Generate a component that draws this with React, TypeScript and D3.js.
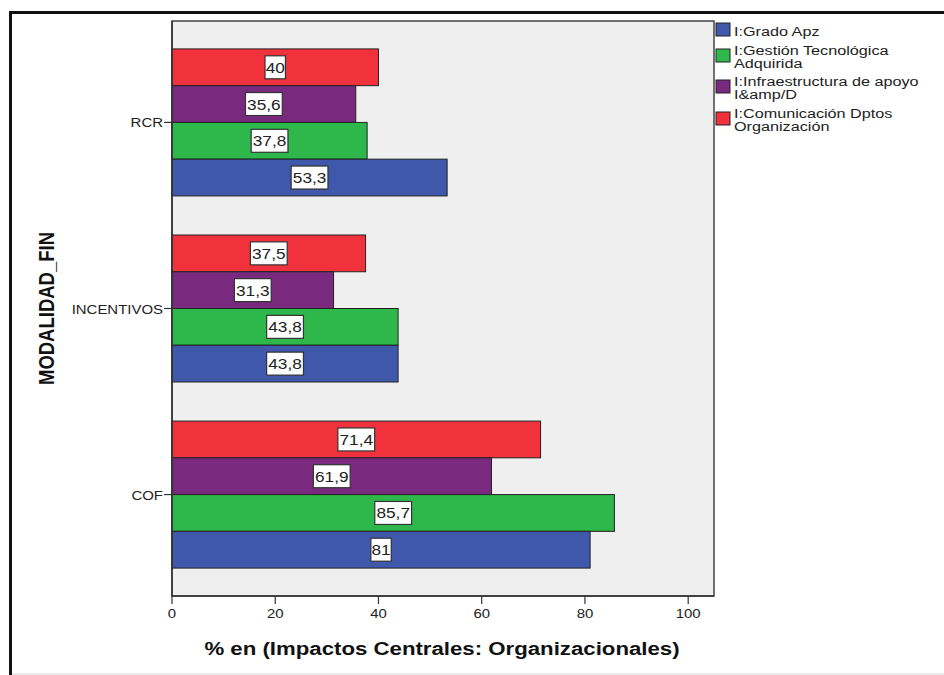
import React from "react";
import * as d3 from "d3";

const categories = ["RCR", "INCENTIVOS", "COF"];
const seriesNames = [
  "I:Grado Apz",
  "I:Gestión Tecnológica Adquirida",
  "I:Infraestructura de apoyo I&amp/D",
  "I:Comunicación Dptos Organización",
];
const legendLines = [
  ["I:Grado Apz"],
  ["I:Gestión Tecnológica", "Adquirida"],
  ["I:Infraestructura de apoyo", "I&amp/D"],
  ["I:Comunicación Dptos", "Organización"],
];
const seriesColors = ["#3F58AC", "#2EB84C", "#7A2A7E", "#F1323D"];
const gradoApz = [53.3, 43.8, 81];
const gestionTec = [37.8, 43.8, 85.7];
const infraestructura = [35.6, 31.3, 61.9];
const comunicacion = [40, 37.5, 71.4];
const seriesValues = [gradoApz, gestionTec, infraestructura, comunicacion];
const xTicks = [0, 20, 40, 60, 80, 100];
const xTitle = "% en (Impactos Centrales: Organizacionales)";
const yTitle = "MODALIDAD_FIN";

const W = 944;
const H = 675;
const PL = 172, PR = 714, PT = 21, PB = 596;
const FONT = "'Liberation Sans', Arial, sans-serif";
const SX = 1.15;

function fmt(v: number) {
  return String(v).replace(".", ",");
}

export default function App() {
  const x = d3.scaleLinear().domain([0, 105]).range([PL, PR]);
  const y = d3.scaleBand<string>().domain(categories).range([PT, PB]).paddingInner(0.21).paddingOuter(0.15);
  const order = [3, 2, 1, 0];
  const sub = d3.scaleBand<number>().domain(order).range([0, y.bandwidth()]).padding(0);

  const bars: React.ReactNode[] = [];
  const labels: React.ReactNode[] = [];
  categories.forEach((c, ci) => {
    order.forEach((si) => {
      const v = seriesValues[si][ci];
      const y0 = (y(c) as number) + (sub(si) as number);
      const h = sub.bandwidth();
      bars.push(
        <rect key={`b${ci}-${si}`} x={x(0)} y={y0} width={x(v) - x(0)} height={h}
          fill={seriesColors[si]} stroke="#222" strokeWidth={1} />
      );
      const cx = x(v / 2);
      const cy = y0 + h / 2;
      const txt = fmt(v);
      const bw = txt.length * 8.2 + 4;
      labels.push(
        <g key={`l${ci}-${si}`}>
          <rect x={cx - bw / 2} y={cy - 11.5} width={bw} height={23} fill="#fff" stroke="#333" strokeWidth={1.2} />
          <text transform={`translate(${cx},${cy + 5.5}) scale(${SX},1)`} textAnchor="middle"
            fontFamily={FONT} fontSize={15} fill="#222">{txt}</text>
        </g>
      );
    });
  });

  const legendY = [23, 49, 80, 112];

  return (
    <svg width={W} height={H} style={{ position: "absolute", left: 0, top: 0, background: "#fff" }}>
      <rect x={0} y={0} width={W} height={H} fill="#fff" />
      {/* outer frame */}
      <line x1={10.5} y1={11} x2={10.5} y2={H} stroke="#111" strokeWidth={3} />
      <line x1={9} y1={12.5} x2={W} y2={12.5} stroke="#111" strokeWidth={3} />
      <line x1={12} y1={674} x2={W} y2={674} stroke="#e4e4e4" strokeWidth={1.5} />

      {/* plot area */}
      <rect x={PL} y={PT} width={PR - PL} height={PB - PT} fill="#EFEFEF" stroke="#444" strokeWidth={1.5} />
      {bars}
      {labels}

      {/* x axis */}
      <line x1={PL} y1={PB} x2={PR} y2={PB} stroke="#333" strokeWidth={1.5} />
      {xTicks.map((t) => (
        <g key={`xt${t}`}>
          <line x1={x(t)} y1={PB} x2={x(t)} y2={PB + 8} stroke="#333" strokeWidth={1.2} />
          <text transform={`translate(${x(t)},${PB + 22}) scale(${SX},1)`} textAnchor="middle"
            fontFamily={FONT} fontSize={13} fill="#222">{t}</text>
        </g>
      ))}
      <text transform={`translate(442,${655}) scale(1.17,1)`} textAnchor="middle"
        fontFamily={FONT} fontSize={19} fontWeight="bold" fill="#111">{xTitle}</text>

      {/* y axis */}
      <line x1={PL} y1={PT} x2={PL} y2={PB} stroke="#333" strokeWidth={1.5} />
      {categories.map((c) => {
        const cy = (y(c) as number) + y.bandwidth() / 2;
        return (
          <g key={`yt${c}`}>
            <line x1={PL - 8} y1={cy} x2={PL} y2={cy} stroke="#333" strokeWidth={1.2} />
            <text transform={`translate(${PL - 9},${cy + 5}) scale(${SX},1)`} textAnchor="end"
              fontFamily={FONT} fontSize={13} fill="#222">{c}</text>
          </g>
        );
      })}
      <text transform={`translate(54,${(PT + PB) / 2}) rotate(-90) scale(1,1.2)`} textAnchor="middle"
        fontFamily={FONT} fontSize={18.5} fontWeight="bold" fill="#111">{yTitle}</text>

      {/* legend */}
      {seriesNames.map((s, i) => {
        const lines = legendLines[i];
        const base = lines.length === 1 ? legendY[i] + 12.5 : legendY[i] + 6;
        return (
          <g key={`lg${i}`}>
            <rect x={716} y={legendY[i]} width={14} height={13} fill={seriesColors[i]} stroke="#222" strokeWidth={1} />
            {lines.map((ln, j) => (
              <text key={j} transform={`translate(734,${base + j * 13}) scale(1.2,1)`}
                fontFamily={FONT} fontSize={13.5} fill="#222">{ln}</text>
            ))}
          </g>
        );
      })}
    </svg>
  );
}
